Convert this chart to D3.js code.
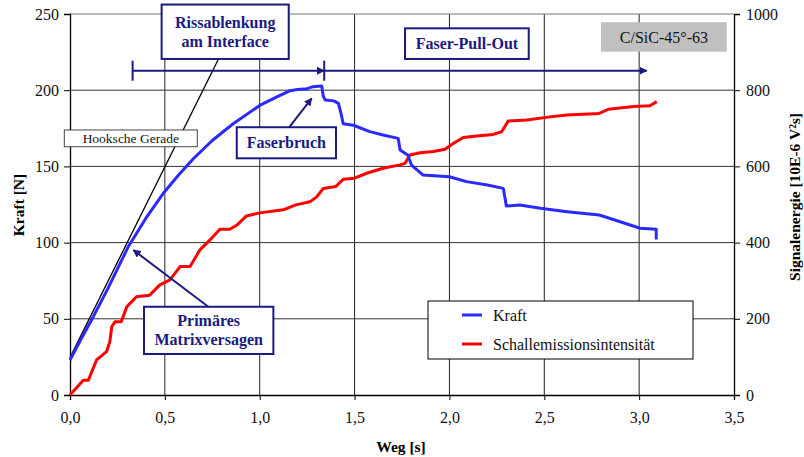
<!DOCTYPE html>
<html>
<head>
<meta charset="utf-8">
<script src="https://cdn.jsdelivr.net/npm/d3@7"></script>
<style>
  body { margin: 0; background: #fff; }
  svg text { font-family: "Times New Roman", "Liberation Serif", "DejaVu Serif", serif; }
</style>
</head>
<body>
<div id="chart"></div>
<script>
// Kraft curve (left axis)
var wegKraft = [0, 0.06, 0.123, 0.2, 0.307, 0.4, 0.49, 0.57, 0.65, 0.75, 0.86, 1.0, 1.08, 1.16, 1.2, 1.25, 1.28, 1.327,
                1.335, 1.345, 1.39, 1.415, 1.43, 1.44, 1.494, 1.58, 1.65, 1.73, 1.74, 1.78, 1.80, 1.86, 2.0, 2.09,
                2.2, 2.284, 2.30, 2.37, 2.48, 2.62, 2.79, 2.90, 3.005, 3.09, 3.09];
var kraft = [23, 37, 51.4, 70, 97.3, 116, 132, 144, 155, 167, 178, 190, 195, 199.7, 200.5, 201, 202.3, 202.8,
             196, 193.6, 193, 191.4, 184, 178, 177, 172.8, 170.6, 168.4, 160.8, 157.5, 150.9, 144.4, 143.2, 140,
             137.8, 135.6, 124, 124.7, 122.5, 120.3, 118.1, 113.7, 109.4, 108.7, 102];

// Schallemission curve (right axis)
var wegSE = [0, 0.07, 0.097, 0.14, 0.193, 0.21, 0.22, 0.237, 0.27, 0.30, 0.35, 0.42, 0.474, 0.527, 0.58, 0.633,
             0.685, 0.738, 0.79, 0.843, 0.88, 0.93, 1.0, 1.124, 1.19, 1.265, 1.30, 1.335, 1.40, 1.44, 1.50, 1.564,
             1.65, 1.74, 1.766, 1.792, 1.845, 1.915, 1.977, 2.02, 2.073, 2.144, 2.23, 2.275, 2.31, 2.407, 2.53,
             2.618, 2.79, 2.838, 2.97, 3.057, 3.093];
var signal = [0, 39, 39, 92, 114, 140, 179, 192, 192, 232, 258, 262, 289, 302, 337, 337,
              381, 407, 435, 435, 446, 470, 478, 486, 499, 507, 520, 542, 547, 566, 569, 582,
              595, 604, 608, 630, 636, 639, 645, 660, 676, 680, 684, 691, 719, 722, 730,
              735, 739, 750, 757, 759, 770];

// Hooke line endpoints
var hookeWeg = [0, 0.782];
var hookeKraft = [24.5, 220.3];

var xTicks = [0, 0.5, 1.0, 1.5, 2.0, 2.5, 3.0, 3.5];
var yLeftTicks = [0, 50, 100, 150, 200, 250];
var yRightTicks = [0, 200, 400, 600, 800, 1000];

var seriesNames = ["Kraft", "Schallemissionsintensität"];
var seriesColors = ["#2a2aff", "#ff0000"];

var w = 804, h = 457;
var navy = "#1a1a80";
var serif = "'Times New Roman', 'Liberation Serif', 'DejaVu Serif', serif";

var x = d3.scaleLinear().domain([0, 3.5]).range([70, 734]);
var yL = d3.scaleLinear().domain([0, 250]).range([395, 14]);
var yR = d3.scaleLinear().domain([0, 1000]).range([395, 14]);

var svg = d3.select("#chart").append("svg")
  .attr("width", w)
  .attr("height", h)
  .attr("font-family", serif);

var defs = svg.append("defs");
defs.append("marker")
  .attr("id", "arr")
  .attr("viewBox", "0 0 10 10")
  .attr("refX", 9).attr("refY", 5)
  .attr("markerWidth", 4).attr("markerHeight", 4)
  .attr("markerUnits", "strokeWidth")
  .attr("orient", "auto")
  .append("path")
  .attr("d", "M0,0 L10,5 L0,10 z")
  .attr("fill", navy);

// grid
svg.append("g").selectAll("line")
  .data(xTicks.slice(1, -1))
  .enter().append("line")
  .attr("x1", function(d) { return x(d); })
  .attr("x2", function(d) { return x(d); })
  .attr("y1", yL(0)).attr("y2", yL(250))
  .attr("stroke", "#222").attr("stroke-width", 1);

svg.append("g").selectAll("line")
  .data(yLeftTicks.slice(1))
  .enter().append("line")
  .attr("x1", x(0)).attr("x2", x(3.5))
  .attr("y1", function(d) { return yL(d); })
  .attr("y2", function(d) { return yL(d); })
  .attr("stroke", function(d) { return d == 250 ? "#777" : "#333"; })
  .attr("stroke-width", 1);

// axes
var fmt = function(d) { return d3.format(".1f")(d).replace(".", ","); };

var gx = svg.append("g")
  .attr("transform", "translate(0," + yL(0) + ")")
  .call(d3.axisBottom(x).tickValues(xTicks).tickFormat(fmt).tickSize(5).tickPadding(16));
var gl = svg.append("g")
  .attr("transform", "translate(" + x(0) + ",0)")
  .call(d3.axisLeft(yL).tickValues(yLeftTicks).tickFormat(d3.format("d")).tickSize(6).tickPadding(5));
var gr = svg.append("g")
  .attr("transform", "translate(" + x(3.5) + ",0)")
  .call(d3.axisRight(yR).tickValues(yRightTicks).tickFormat(d3.format("d")).tickSize(6).tickPadding(6));

[gx, gl, gr].forEach(function(g) {
  g.attr("font-family", serif);
  g.select(".domain").attr("stroke", "#000").attr("stroke-width", 1.3);
  g.selectAll(".tick line").attr("stroke", "#000");
  g.selectAll("text")
    .attr("font-size", 16)
    .attr("fill", "#111");
});
gx.selectAll("text").attr("dy", "0.45em");

// axis titles
svg.append("text")
  .attr("transform", "translate(24,205) rotate(-90)")
  .attr("text-anchor", "middle")
  .attr("font-weight", "bold").attr("font-size", 15.5)
  .text("Kraft [N]");
svg.append("text")
  .attr("transform", "translate(800,197) rotate(-90)")
  .attr("text-anchor", "middle")
  .attr("font-weight", "bold").attr("font-size", 15.5)
  .text("Signalenergie [10E-6 V²s]");
svg.append("text")
  .attr("x", 401).attr("y", 452)
  .attr("text-anchor", "middle")
  .attr("font-weight", "bold").attr("font-size", 15.5)
  .text("Weg [s]");

// Hooke line
svg.append("line")
  .attr("x1", x(hookeWeg[0])).attr("y1", yL(hookeKraft[0]))
  .attr("x2", x(hookeWeg[1])).attr("y2", yL(hookeKraft[1]))
  .attr("stroke", "#000").attr("stroke-width", 1.3);

// curves
var lineL = d3.line()
  .x(function(d) { return x(d[0]); })
  .y(function(d) { return yL(d[1]); });
var lineR = d3.line()
  .x(function(d) { return x(d[0]); })
  .y(function(d) { return yR(d[1]); });

svg.append("path")
  .datum(d3.zip(wegSE, signal))
  .attr("d", lineR)
  .attr("fill", "none")
  .attr("stroke", seriesColors[1])
  .attr("stroke-width", 3)
  .attr("stroke-linejoin", "round");

svg.append("path")
  .datum(d3.zip(wegKraft, kraft))
  .attr("d", lineL)
  .attr("fill", "none")
  .attr("stroke", seriesColors[0])
  .attr("stroke-width", 3)
  .attr("stroke-linejoin", "round");

// phase bar
var barY = yL(212.8);
svg.append("line")
  .attr("x1", x(0.33)).attr("x2", x(1.34))
  .attr("y1", barY).attr("y2", barY)
  .attr("stroke", navy).attr("stroke-width", 2)
  .attr("marker-end", "url(#arr)");
svg.append("line")
  .attr("x1", x(1.34)).attr("x2", x(3.04))
  .attr("y1", barY).attr("y2", barY)
  .attr("stroke", navy).attr("stroke-width", 2)
  .attr("marker-end", "url(#arr)");
[0.33, 1.34].forEach(function(v) {
  svg.append("line")
    .attr("x1", x(v)).attr("x2", x(v))
    .attr("y1", barY - 10).attr("y2", barY + 10)
    .attr("stroke", navy).attr("stroke-width", 2);
});

// arrows to curve
svg.append("line")
  .attr("x1", x(1.156)).attr("y1", yL(175.7))
  .attr("x2", x(1.274)).attr("y2", yL(194.7))
  .attr("stroke", navy).attr("stroke-width", 2)
  .attr("marker-end", "url(#arr)");
svg.append("line")
  .attr("x1", x(0.729)).attr("y1", yL(57.9))
  .attr("x2", x(0.334)).attr("y2", yL(95.1))
  .attr("stroke", navy).attr("stroke-width", 2)
  .attr("marker-end", "url(#arr)");

// annotation boxes
function box(v0, v1, f0, f1, lines, opt) {
  var bx = x(v0), by = yL(f1), bw = x(v1) - x(v0), bh = yL(f0) - yL(f1);
  svg.append("rect")
    .attr("x", bx).attr("y", by)
    .attr("width", bw).attr("height", bh)
    .attr("fill", opt.fill)
    .attr("stroke", opt.stroke)
    .attr("stroke-width", opt.sw);
  var lh = opt.lh || 18;
  var top = by + bh / 2 - (lines.length - 1) * lh / 2;
  lines.forEach(function(t, i) {
    svg.append("text")
      .attr("x", bx + bw / 2)
      .attr("y", top + i * lh)
      .attr("dy", "0.35em")
      .attr("text-anchor", "middle")
      .attr("font-size", opt.size)
      .attr("font-weight", opt.bold ? "bold" : "normal")
      .attr("fill", opt.color)
      .text(t);
  });
}

var bold = { fill: "#fff", stroke: navy, sw: 2, size: 16, bold: true, color: navy, lh: 19 };
box(0.483, 1.153, 220.5, 256.2, ["Rissablenkung", "am Interface"], bold);
box(1.766, 2.418, 220.5, 240.6, ["Faser-Pull-Out"], bold);
box(0.879, 1.402, 155.3, 175.7, ["Faserbruch"], bold);
box(0.390, 1.072, 26.9, 57.9, ["Primäres", "Matrixversagen"], bold);
box(2.799, 3.462, 225.3, 244.6, ["C/SiC-45°-63"],
    { fill: "#c0c0c0", stroke: "none", sw: 0, size: 16, bold: false, color: "#111" });
box(-0.030, 0.671, 162.9, 173.9, ["Hooksche Gerade"],
    { fill: "#fff", stroke: "#444", sw: 1, size: 13.5, bold: false, color: "#111" });

// legend
var lg = svg.append("g").attr("transform", "translate(428,301)");
lg.append("rect")
  .attr("width", 265).attr("height", 58)
  .attr("fill", "#fff").attr("stroke", "#000").attr("stroke-width", 1);
lg.selectAll(".item")
  .data(seriesNames)
  .enter().append("g")
  .each(function(d, i) {
    var g = d3.select(this).attr("transform", "translate(0," + (14 + i * 29) + ")");
    g.append("line")
      .attr("x1", 34).attr("x2", 54)
      .attr("stroke", seriesColors[i]).attr("stroke-width", 3);
    g.append("text")
      .attr("x", 65).attr("dy", "0.35em")
      .attr("font-size", 16).attr("fill", "#111")
      .text(d);
  });
</script>
</body>
</html>
